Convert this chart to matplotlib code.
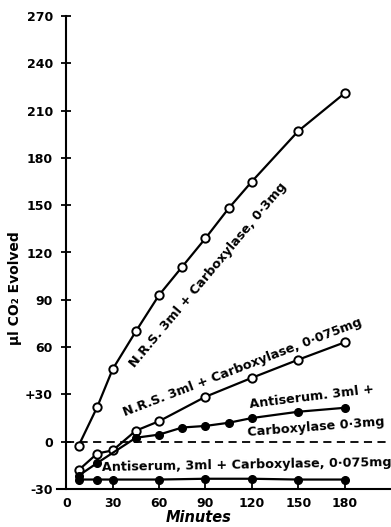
import matplotlib
matplotlib.use("Agg")
import matplotlib.pyplot as plt

# Data
x_nrs_03 = [8, 20, 30, 45, 60, 75, 90, 105, 120, 150, 180]
y_nrs_03 = [-2.5, 22, 46, 70, 93, 111, 129, 148, 165, 197, 221]

x_nrs_0075 = [8, 20, 30, 45, 60, 90, 120, 150, 180]
y_nrs_0075 = [-18, -7.5, -5.5, 7, 13, 28.5, 40.5, 52, 63]

x_anti_03 = [8, 20, 45, 60, 75, 90, 105, 120, 150, 180]
y_anti_03 = [-21.5, -13.5, 2.5, 4.5, 9, 10, 12, 15, 19, 21.5]

x_anti_0075 = [8, 20, 30, 60, 90, 120, 150, 180]
y_anti_0075 = [-24, -24, -24, -24, -23.5, -23.5, -24, -24]

xticks = [0, 30, 60, 90, 120, 150, 180]
yticks = [-30, 0, 30, 60, 90, 120, 150, 180, 210, 240, 270]
ytick_labels = ["-30", "0", "+30", "60", "90", "120", "150", "180", "210", "240", "270"]

plt.rcParams['font.family'] = ['DejaVu Sans']
plt.rcParams['font.weight'] = 'bold'

fig = plt.figure(figsize=(3.91, 5.27), dpi=100)
ax = fig.add_axes([57/391, 38/527, 334/391, 473/527])
ax.set_xlim(-6, 210)
ax.set_ylim(-30, 270)

for s in ['top', 'right']:
    ax.spines[s].set_visible(False)
ax.spines['left'].set_position(('data', 0))
ax.spines['left'].set_linewidth(1.5)
ax.spines['bottom'].set_linewidth(1.5)

ax.set_xticks(xticks)
ax.set_xticklabels([str(v) for v in xticks], fontsize=9, fontweight='bold')
ax.set_yticks(yticks)
ax.set_yticklabels(ytick_labels, fontsize=9, fontweight='bold')
ax.tick_params(axis='y', direction='inout', length=7, width=1.3, pad=6)
ax.tick_params(axis='x', direction='in', length=6, width=1.3, pad=6)

# dashed zero line
ax.plot([0, 210], [0, 0], color='black', lw=1.3, dashes=(4.5, 3), clip_on=False)

lw = 1.6
ax.plot(x_nrs_03, y_nrs_03, '-o', color='black', lw=lw, ms=6,
        mfc='white', mec='black', mew=1.4, zorder=3)
ax.plot(x_nrs_0075, y_nrs_0075, '-o', color='black', lw=lw, ms=6,
        mfc='white', mec='black', mew=1.4, zorder=3)
ax.plot(x_anti_03, y_anti_03, '-o', color='black', lw=lw, ms=5.5,
        mfc='black', mec='black', zorder=3)
ax.plot(x_anti_0075, y_anti_0075, '-o', color='black', lw=lw, ms=5.5,
        mfc='black', mec='black', zorder=3, clip_on=False)

tk = dict(ha='center', va='center', rotation_mode='anchor',
          fontsize=9.2, fontweight='bold', color='black')
ax.text(92, 106, "N.R.S. 3ml + Carboxylase, 0·3mg", rotation=50, **tk)
ax.text(113.7, 47.5, "N.R.S. 3ml + Carboxylase, 0·075mg", rotation=21, **tk)
ax.text(159, 28.5, "Antiserum. 3ml +", rotation=7, **tk)
ax.text(161.6, 9, "Carboxylase 0·3mg", rotation=4.5, **tk)
ax.text(117, -15, "Antiserum, 3ml + Carboxylase, 0·075mg", rotation=1, **tk)

fig.text(15/391, 1 - 288/527, "μl CO₂ Evolved", rotation=90,
         ha='center', va='center', fontsize=10, fontweight='bold')
fig.text(199/391, 1 - 518/527, "Minutes", ha='center', va='center',
         fontsize=10.5, fontweight='bold', style='italic')

fig.savefig("out.png", dpi=100)
